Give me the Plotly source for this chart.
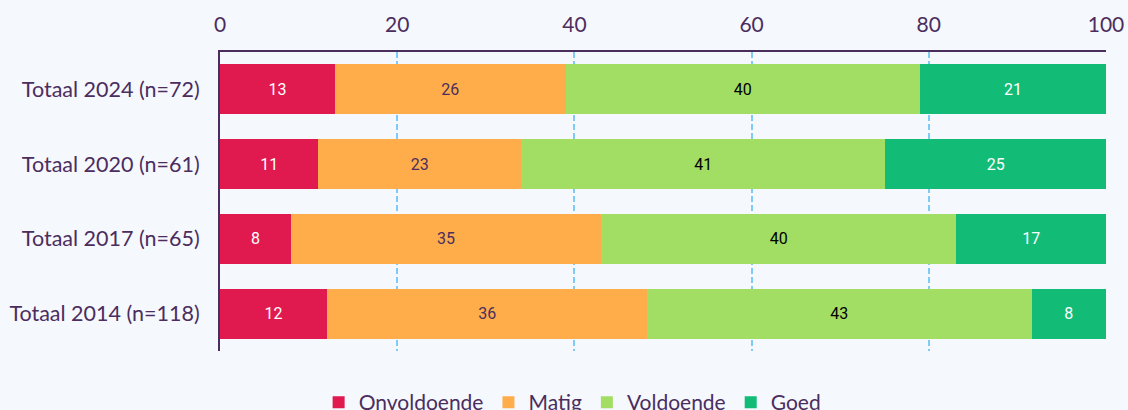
import plotly.graph_objects as go

categories = ["Totaal 2024 (n=72)", "Totaal 2020 (n=61)", "Totaal 2017 (n=65)", "Totaal 2014 (n=118)"]
series_names = ["Onvoldoende", "Matig", "Voldoende", "Goed"]
# unrounded shares; labels show rounded values
onvoldoende = [13.0, 11.1, 8.0, 12.1]
matig = [26.0, 22.9, 35.0, 36.1]
voldoende = [40.0, 41.1, 40.1, 43.4]
goed = [21.0, 24.9, 16.9, 8.4]
x_ticks = [0, 20, 40, 60, 80, 100]

values = [onvoldoende, matig, voldoende, goed]
colors = ["#E0194F", "#FFAD4B", "#A3DE64", "#12BC77"]
text_colors = ["#FFFFFF", "#4B2D5E", "#000000", "#FFFFFF"]
fg = "#4B2D5E"

fig = go.Figure()
for name, vals, col, tc in zip(series_names, values, colors, text_colors):
    fig.add_trace(go.Bar(
        y=categories, x=vals, name=name, orientation="h",
        marker=dict(color=col, line=dict(width=0)),
        texttemplate="%{x:.0f}", textposition="inside", insidetextanchor="middle",
        textfont=dict(family="Roboto", size=16, color=tc),
        hovertemplate="%{y}: %{x:.0f}<extra>" + name + "</extra>",
    ))

fig.update_layout(
    barmode="stack",
    bargap=0.33,
    width=1128, height=410,
    margin=dict(l=220, r=22, t=52, b=59, autoexpand=False),
    paper_bgcolor="#F5F8FD", plot_bgcolor="#F5F8FD",
    font=dict(family="Lato", color=fg, size=18),
    legend=dict(orientation="h", x=0.398, xanchor="center", y=-0.104, yanchor="top",
                font=dict(family="Lato", size=21, color=fg), traceorder="normal",
                itemwidth=30),
    showlegend=True,
)
fig.update_xaxes(side="top", range=[0, 100], tickvals=x_ticks, ticktext=[str(t) for t in x_ticks],
                 showgrid=True, gridcolor="#7FCBF5", griddash="6px,3px", gridwidth=1.5,
                 showline=True, linecolor=fg, linewidth=2, zeroline=False, automargin=False,
                 tickfont=dict(family="Lato", size=21, color=fg), ticks="", ticklabelstandoff=10)
fig.update_yaxes(autorange="reversed", showline=True, linecolor=fg, linewidth=2, automargin=False,
                 tickfont=dict(family="Lato", size=21.5, color=fg), ticks="", ticklabelstandoff=14)

fig.write_html("out.html", config={"displayModeBar": False},
               post_script="document.body.style.margin='0';")
